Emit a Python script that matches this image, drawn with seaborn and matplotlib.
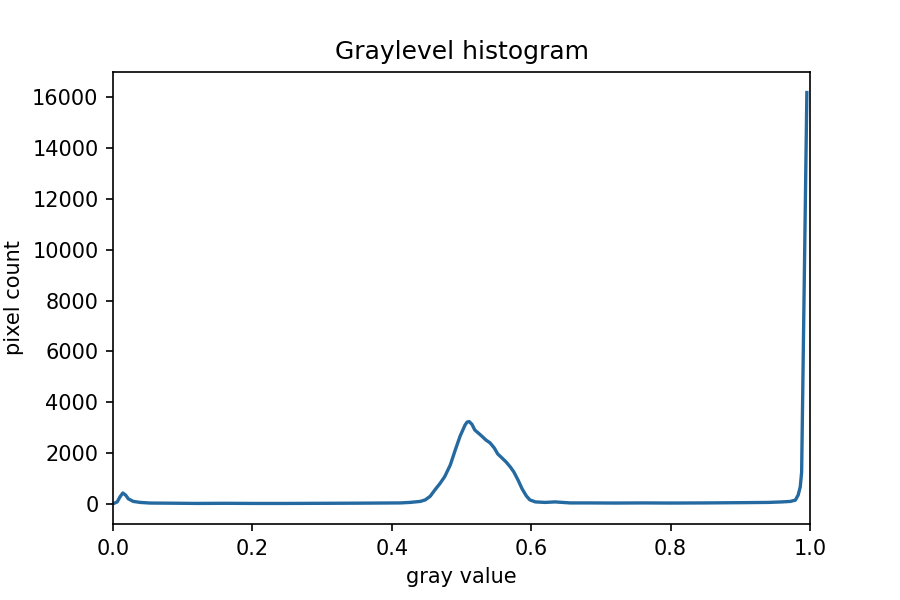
import matplotlib
matplotlib.use("Agg")
import matplotlib.pyplot as plt
import seaborn as sns
import pandas as pd

gray_value = [0.002, 0.006, 0.010, 0.014, 0.018, 0.022, 0.029, 0.039, 0.053,
              0.080, 0.120, 0.160, 0.200, 0.250, 0.300, 0.350, 0.380,
              0.412, 0.426, 0.441, 0.448, 0.455, 0.462, 0.469, 0.476, 0.484,
              0.491, 0.498, 0.505, 0.508, 0.511, 0.515, 0.519, 0.524, 0.529, 0.535,
              0.541, 0.547, 0.552, 0.558, 0.564, 0.570, 0.575, 0.581, 0.587,
              0.593, 0.598, 0.606, 0.620, 0.634, 0.656,
              0.680, 0.720, 0.760, 0.800, 0.850, 0.900, 0.940, 0.960,
              0.972, 0.979, 0.983, 0.986, 0.988, 0.9955]
pixel_count = [30, 80, 280, 430, 350, 200, 100, 60, 35,
               30, 20, 25, 20, 20, 25, 30, 35,
               40, 60, 100, 160, 300, 560, 800, 1080, 1540,
               2120, 2670, 3100, 3220, 3240, 3130, 2910, 2790, 2670, 2515,
               2400, 2200, 1965, 1810, 1650, 1455, 1260, 945, 590,
               315, 160, 80, 60, 80, 40,
               40, 35, 40, 35, 40, 50, 60, 80,
               100, 150, 350, 670, 1250, 16180]

df = pd.DataFrame({"gray value": gray_value, "pixel count": pixel_count})

fig, ax = plt.subplots(figsize=(6, 4), dpi=150)
fig.subplots_adjust(left=0.1256, right=0.9, top=0.88, bottom=0.1267)
sns.lineplot(data=df, x="gray value", y="pixel count", ax=ax,
             color="#2469a0", linewidth=1.6)
ax.set_xlim(0, 1)
ax.set_title("Graylevel histogram")
ax.set_xlabel("gray value")
ax.set_ylabel("pixel count")
fig.savefig("out.png", dpi=150)
